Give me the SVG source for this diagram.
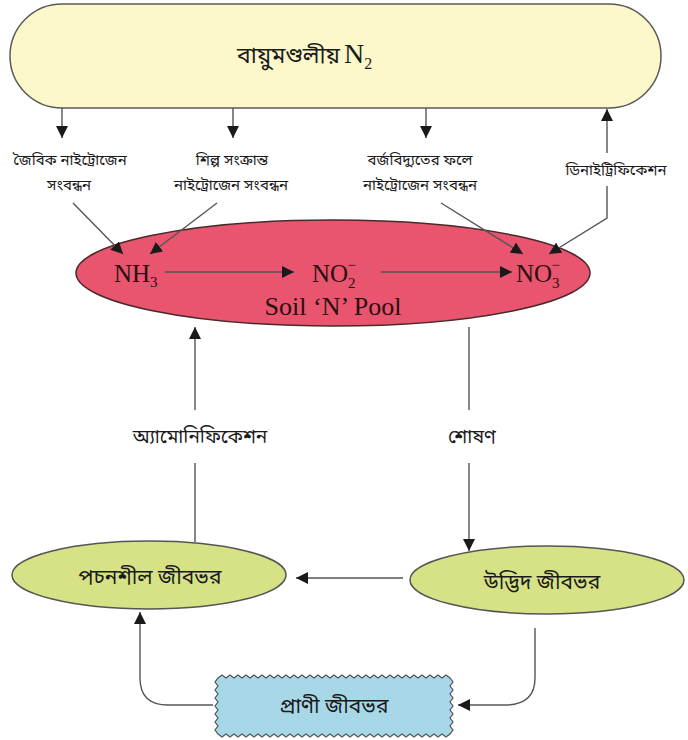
<svg xmlns="http://www.w3.org/2000/svg" width="688" height="740" viewBox="0 0 688 740">
<defs>
<style>
.bn{font-family:"Noto Sans Bengali","Noto Sans","Noto Sans CJK SC",sans-serif;fill:#1a1a1a;text-anchor:middle}
.lbl{font-size:15px}
.node{font-size:21px}
.chem{font-family:"Liberation Serif",serif;fill:#2a1010;font-size:25px}
.conn{fill:none;stroke:#555;stroke-width:1.4}
</style>
<marker id="ah" viewBox="0 0 10 10" refX="10" refY="5" markerWidth="12" markerHeight="12" markerUnits="userSpaceOnUse" orient="auto"><path d="M0,0 L10,5 L0,10 z" fill="#1a1a1a"/></marker>
</defs>
<rect width="688" height="740" fill="#ffffff"/>

<g id="atmosphere">
<rect x="10" y="4" width="651" height="104" rx="52" ry="52" fill="#fcf8c9" stroke="#5a5a5a" stroke-width="1.5"/>
<text x="340" y="63" class="bn" style="font-size:23px;text-anchor:end">বায়ুমণ্ডলীয়</text>
<text x="344" y="63" font-family="Liberation Serif,serif" font-size="28" fill="#1a1a1a">N<tspan font-size="16" dy="6">2</tspan></text>
</g>

<g id="soil-pool">
<ellipse cx="333" cy="273" rx="257" ry="53" fill="#e9546f" stroke="#4a2a2a" stroke-width="1.5"/>
<text x="114" y="282" class="chem">NH<tspan font-size="15" dy="5">3</tspan></text>
<text x="312" y="282" class="chem">NO<tspan font-size="15" dy="6">2</tspan><tspan font-size="15" dx="-8" dy="-18">−</tspan></text>
<text x="516" y="282" class="chem">NO<tspan font-size="15" dy="6">3</tspan><tspan font-size="15" dx="-8" dy="-18">−</tspan></text>
<text x="333" y="315" class="chem" text-anchor="middle" style="font-size:26px">Soil ‘N’ Pool</text>
</g>

<g id="decomposer">
<ellipse cx="149" cy="575" rx="137" ry="34" fill="#d6e285" stroke="#555" stroke-width="1.5"/>
<text x="150" y="584" class="bn node">পচনশীল জীবভর</text>
</g>

<g id="plant">
<ellipse cx="547" cy="580" rx="137" ry="34" fill="#d6e285" stroke="#555" stroke-width="1.5"/>
<text x="542" y="589" class="bn node">উদ্ভিদ জীবভর</text>
</g>

<g id="animal">
<path d="M218,678 l4-3 4 3 4-3 4 3 4-3 4 3 4-3 4 3 4-3 4 3
 4-3 4 3 4-3 4 3 4-3 4 3 4-3 4 3 4-3 4 3
 4-3 4 3 4-3 4 3 4-3 4 3 4-3 4 3 4-3 4 3
 4-3 4 3 4-3 4 3 4-3 4 3 4-3 4 3 4-3 4 3
 4-3 4 3 4-3 4 3 4-3 4 3 4-3 4 3 4-3 4 3
 4-3 4 3 4-3 4 3 4-3 4 3 4-3 4 3
 3 4-3 4 3 4-3 4 3 4-3 4 3 4-3 4 3 4-3 4 3 4-3 4 3 4-3 4
 -4 3-4-3 -4 3-4-3 -4 3-4-3 -4 3-4-3 -4 3-4-3
 -4 3-4-3 -4 3-4-3 -4 3-4-3 -4 3-4-3 -4 3-4-3
 -4 3-4-3 -4 3-4-3 -4 3-4-3 -4 3-4-3 -4 3-4-3
 -4 3-4-3 -4 3-4-3 -4 3-4-3 -4 3-4-3 -4 3-4-3
 -4 3-4-3 -4 3-4-3 -4 3-4-3 -4 3-4-3 -4 3-4-3
 -4 3-4-3 -4 3-4-3 -4 3-4-3 -4 3-4-3
 -3-4 3-4 -3-4 3-4 -3-4 3-4 -3-4 3-4 -3-4 3-4 -3-4 3-4 -3-4 3-4z" fill="#a8d8e8" stroke="#555" stroke-width="1.2"/>
<text x="334" y="713" class="bn node">প্রাণী জীবভর</text>
</g>

<g id="labels">
<text x="70" y="165" class="bn lbl">জৈবিক নাইট্রোজেন</text>
<text x="69" y="190" class="bn lbl">সংবন্ধন</text>
<text x="232" y="165" class="bn lbl">শিল্প সংক্রান্ত</text>
<text x="231" y="190" class="bn lbl">নাইট্রোজেন সংবন্ধন</text>
<text x="420" y="165" class="bn lbl">বর্জবিদ্যুতের ফলে</text>
<text x="420" y="190" class="bn lbl">নাইট্রোজেন সংবন্ধন</text>
<text x="616" y="175" class="bn lbl">ডিনাইট্রিফিকেশন</text>
<text x="200" y="443" class="bn" style="font-size:19px">অ্যামোনিফিকেশন</text>
<text x="472" y="443" class="bn" style="font-size:19px">শোষণ</text>
</g>

<g id="connectors">
<path class="conn" d="M62,108 V138" marker-end="url(#ah)"/>
<path class="conn" d="M233,108 V138" marker-end="url(#ah)"/>
<path class="conn" d="M426,108 V138" marker-end="url(#ah)"/>
<path class="conn" d="M607,153 V109" marker-end="url(#ah)"/>
<path class="conn" d="M607,186 V218 L549,254" marker-end="url(#ah)"/>
<path class="conn" d="M73,203 L123,254" marker-end="url(#ah)"/>
<path class="conn" d="M217,203 L150,254" marker-end="url(#ah)"/>
<path class="conn" d="M441,203 L523,254" marker-end="url(#ah)"/>
<path class="conn" d="M165,272 H294" marker-end="url(#ah)"/>
<path class="conn" d="M381,272 H512" marker-end="url(#ah)"/>
<path class="conn" d="M195,410 V327" marker-end="url(#ah)"/>
<path class="conn" d="M195,463 V542"/>
<path class="conn" d="M469,327 V410"/>
<path class="conn" d="M469,463 V551" marker-end="url(#ah)"/>
<path class="conn" d="M403,578 H296" marker-end="url(#ah)"/>
<path class="conn" d="M535,628 V678 Q535,705 505,705 H458" marker-end="url(#ah)"/>
<path class="conn" d="M213,705 H168 Q140,705 140,678 V612" marker-end="url(#ah)"/>
</g>
</svg>
